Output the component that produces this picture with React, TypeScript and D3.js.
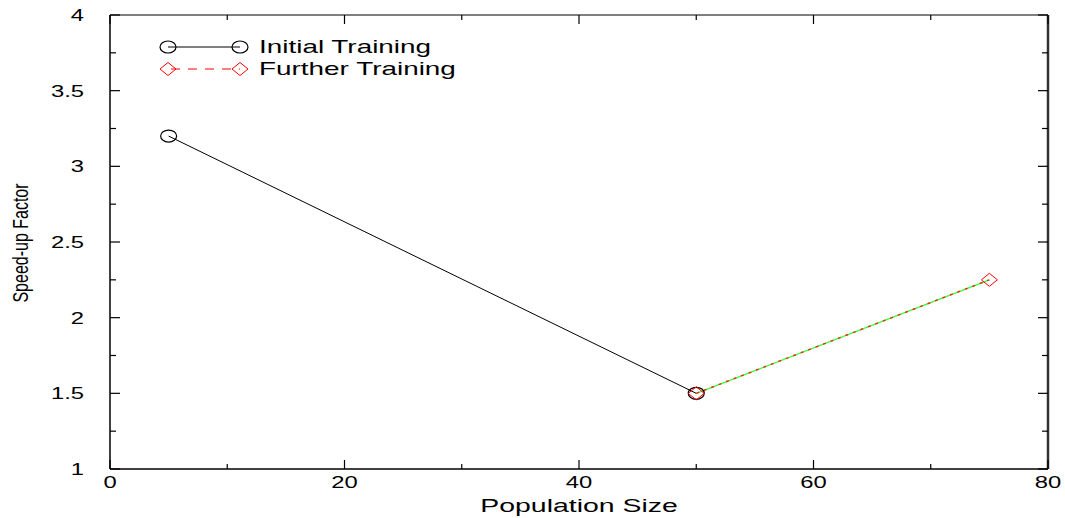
import React from "react";
import * as d3 from "d3";

const initialX = [5, 50];
const initialY = [3.2, 1.5];
const furtherX = [50, 75];
const furtherY = [1.5, 2.25];
const xTicks = [0, 20, 40, 60, 80];
const xMinor = [10, 30, 50, 70];
const yTicks = [1, 1.5, 2, 2.5, 3, 3.5, 4];
const yTickLabels = ["1", "1.5", "2", "2.5", "3", "3.5", "4"];
const yMinor = [1.25, 1.75, 2.25, 2.75, 3.25, 3.75];
const seriesNames = ["Initial Training", "Further Training"];
const xTitle = "Population Size";
const yTitle = "Speed-up Factor";

const W = 1065, H = 518;
const L = 110, R = 1048, T = 15, B = 469;
const SX = 1.4;
const FONT = "'Liberation Sans', Arial, sans-serif";

export default function App() {
  const x = d3.scaleLinear().domain([0, 80]).range([L, R]);
  const y = d3.scaleLinear().domain([1, 4]).range([B, T]);
  const line = d3.line<[number, number]>().x(d => x(d[0])).y(d => y(d[1]));
  const initPts: [number, number][] = initialX.map((v, i) => [v, initialY[i]]);
  const furtherPts: [number, number][] = furtherX.map((v, i) => [v, furtherY[i]]);

  const txt = (tx: number, ty: number, s: string, anchor: string, key?: string, size = 17, sx = SX) => (
    <text key={key} transform={`translate(${tx},${ty}) scale(${sx},1)`} textAnchor={anchor}
      fontFamily={FONT} fontSize={size} fill="#000">{s}</text>
  );

  const diamond = (cx: number, cy: number, key?: string) => (
    <path key={key} d={`M${cx - 8},${cy} L${cx},${cy - 6.5} L${cx + 8},${cy} L${cx},${cy + 6.5} Z`}
      fill="none" stroke="#ff0000" strokeWidth={1} />
  );
  const circle = (cx: number, cy: number, key?: string) => (
    <ellipse key={key} cx={cx} cy={cy} rx={8} ry={6} fill="none" stroke="#000" strokeWidth={1.2} />
  );

  return (
    <svg width={W} height={H} style={{ position: "absolute", left: 0, top: 0, background: "#fff" }}>
      {/* frame */}
      <line x1={L} y1={T} x2={R} y2={T} stroke="#000" strokeWidth={1.2} />
      <line x1={L} y1={B} x2={R} y2={B} stroke="#000" strokeWidth={1.5} />
      <line x1={L} y1={T} x2={L} y2={B} stroke="#000" strokeWidth={1.5} />
      <line x1={R} y1={T} x2={R} y2={B} stroke="#333" strokeWidth={2.5} />
      {/* y ticks */}
      {yTicks.map(v => (
        <g key={"yt" + v}>
          <line x1={L} x2={L + 10} y1={y(v)} y2={y(v)} stroke="#000" strokeWidth={1.2} />
          <line x1={R} x2={R - 10} y1={y(v)} y2={y(v)} stroke="#000" strokeWidth={1.2} />
        </g>
      ))}
      {yMinor.map(v => (
        <g key={"ym" + v}>
          <line x1={L} x2={L + 6} y1={y(v)} y2={y(v)} stroke="#000" strokeWidth={1.2} />
          <line x1={R} x2={R - 6} y1={y(v)} y2={y(v)} stroke="#000" strokeWidth={1.2} />
        </g>
      ))}
      {/* x ticks */}
      {xTicks.map(v => (
        <g key={"xt" + v}>
          <line x1={x(v)} x2={x(v)} y1={B} y2={B - 9} stroke="#000" strokeWidth={1.2} />
          <line x1={x(v)} x2={x(v)} y1={T} y2={T + 9} stroke="#000" strokeWidth={1.2} />
        </g>
      ))}
      {xMinor.map(v => (
        <g key={"xm" + v}>
          <line x1={x(v)} x2={x(v)} y1={B} y2={B - 5} stroke="#000" strokeWidth={1.2} />
          <line x1={x(v)} x2={x(v)} y1={T} y2={T + 5} stroke="#000" strokeWidth={1.2} />
        </g>
      ))}
      {/* tick labels */}
      {yTicks.map((v, i) => txt(84, y(v) + 6, yTickLabels[i], "end", "yl" + v))}
      {xTicks.map(v => txt(x(v), 488, String(v), "middle", "xl" + v))}
      {/* axis titles */}
      {txt(579, 512, xTitle, "middle", "xt", 18, 1.58)}
      <text transform={`translate(28,243) scale(${SX},1) rotate(-90)`} textAnchor="middle"
        fontFamily={FONT} fontSize={16} fill="#000">{yTitle}</text>
      {/* series */}
      <path d={line(initPts) || ""} fill="none" stroke="#000" strokeWidth={1} />
      <path d={line(furtherPts) || ""} fill="none" stroke="#33ff33" strokeWidth={1.2} />
      <path d={line(furtherPts) || ""} fill="none" stroke="#ff0000" strokeWidth={1.5} strokeDasharray="3,5" opacity={0.8} />
      {initPts.map((p, i) => circle(x(p[0]), y(p[1]), "c" + i))}
      {furtherPts.map((p, i) => diamond(x(p[0]), y(p[1]), "d" + i))}
      {/* legend */}
      <line x1={168} x2={240} y1={47} y2={47} stroke="#000" strokeWidth={1} />
      {circle(168, 47)}
      {circle(240, 47)}
      {txt(259, 53, seriesNames[0], "start", "lg0", 18, 1.55)}
      <line x1={168} x2={240} y1={69} y2={69} stroke="#ff0000" strokeWidth={1} strokeDasharray="9,8" strokeDashoffset={-3} />
      {diamond(168, 69)}
      {diamond(240, 69)}
      {txt(259, 75, seriesNames[1], "start", "lg1", 18, 1.55)}
    </svg>
  );
}
